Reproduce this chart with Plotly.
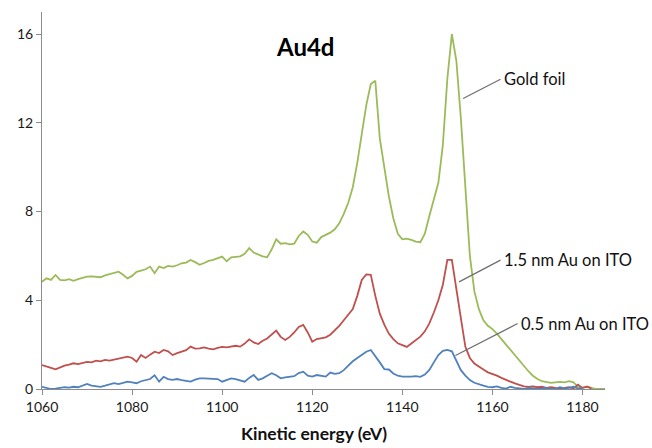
import plotly.graph_objects as go

# Kinetic energy grid (eV) for each spectrum
energy_gold = list(range(1060, 1186))
energy_15nm = list(range(1060, 1183))
energy_05nm = list(range(1060, 1181))

# Au4d photoemission intensity, gold foil
gold_foil = [
    4.84, 4.99, 4.92, 5.14, 4.92, 4.90, 4.95, 4.88, 4.95, 5.00,
    5.07, 5.08, 5.06, 5.04, 5.12, 5.18, 5.22, 5.29, 5.15, 4.99,
    5.10, 5.28, 5.34, 5.40, 5.52, 5.22, 5.52, 5.45, 5.55, 5.52,
    5.58, 5.67, 5.70, 5.82, 5.72, 5.60, 5.68, 5.78, 5.82, 5.90,
    5.97, 5.76, 5.94, 5.96, 5.98, 6.10, 6.35, 6.15, 6.05, 5.98,
    5.94, 6.30, 6.75, 6.55, 6.58, 6.52, 6.55, 6.90, 7.10, 6.95,
    6.65, 6.60, 6.85, 6.95, 7.05, 7.20, 7.47, 7.90, 8.40, 9.10,
    10.2, 11.5, 12.8, 13.75, 13.9, 11.3, 10.0, 8.7, 7.7, 7.0,
    6.75, 6.78, 6.72, 6.65, 6.62, 7.0, 7.8, 8.5, 9.3, 11.0,
    14.0, 16.0, 14.8, 12.2, 9.0, 6.0, 4.4, 3.6, 3.1, 2.85,
    2.7, 2.5, 2.25, 2.0, 1.75, 1.5, 1.25, 1.0, 0.8, 0.6,
    0.45, 0.35, 0.3, 0.28, 0.3, 0.32, 0.3, 0.35, 0.3, 0.1,
    0.05, 0.12, 0.05, 0.0, 0.0, 0.0,
]

# 1.5 nm Au on ITO
au_15nm = [
    1.08, 1.00, 0.95, 0.89, 0.98, 1.05, 1.10, 1.16, 1.12, 1.18,
    1.22, 1.20, 1.28, 1.25, 1.31, 1.28, 1.33, 1.38, 1.42, 1.46,
    1.40, 1.23, 1.53, 1.40, 1.55, 1.68, 1.62, 1.76, 1.70, 1.53,
    1.62, 1.70, 1.75, 1.91, 1.82, 1.83, 1.88, 1.82, 1.79, 1.85,
    1.90, 1.88, 1.92, 1.95, 1.91, 2.05, 2.24, 2.10, 2.03, 2.18,
    2.28, 2.45, 2.63, 2.35, 2.21, 2.35, 2.55, 2.80, 2.89, 2.55,
    2.13, 2.25, 2.30, 2.33, 2.45, 2.65, 2.85, 3.10, 3.35, 3.60,
    4.20, 4.92, 5.17, 5.15, 4.20, 3.40, 2.90, 2.50, 2.25, 2.06,
    1.98, 1.90, 2.05, 2.20, 2.36, 2.60, 2.96, 3.45, 4.00, 4.70,
    5.82, 5.82, 4.60, 3.20, 1.90, 1.40, 1.15, 1.00, 0.88, 0.75,
    0.68, 0.60, 0.50, 0.40, 0.33, 0.25, 0.18, 0.12, 0.10, 0.12,
    0.08, 0.10, 0.05, 0.08, 0.05, 0.03, 0.05, 0.08, 0.02, 0.20,
    0.05, 0.10, 0.02,
]

# 0.5 nm Au on ITO
au_05nm = [
    0.10, 0.05, 0.00, 0.02, 0.05, 0.08, 0.06, 0.10, 0.08, 0.15,
    0.23, 0.15, 0.12, 0.10, 0.15, 0.20, 0.26, 0.22, 0.28, 0.33,
    0.30, 0.26, 0.35, 0.41, 0.45, 0.62, 0.33, 0.55, 0.45, 0.41,
    0.45, 0.40, 0.38, 0.33, 0.42, 0.48, 0.48, 0.47, 0.48, 0.45,
    0.33, 0.42, 0.48, 0.45, 0.40, 0.33, 0.50, 0.63, 0.41, 0.48,
    0.60, 0.71, 0.62, 0.48, 0.52, 0.55, 0.58, 0.72, 0.78, 0.60,
    0.56, 0.63, 0.60, 0.56, 0.74, 0.68, 0.71, 0.85, 1.05, 1.25,
    1.40, 1.55, 1.68, 1.76, 1.45, 1.20, 0.90, 0.88, 0.70, 0.60,
    0.56, 0.55, 0.56, 0.58, 0.55, 0.65, 0.86, 1.20, 1.53, 1.72,
    1.76, 1.70, 1.25, 0.85, 0.60, 0.40, 0.28, 0.20, 0.15, 0.10,
    0.08, 0.12, 0.05, 0.02, 0.10, 0.05, 0.02, 0.00, 0.05, 0.02,
    0.00, 0.03, 0.05, 0.02, 0.00, 0.08, 0.03, 0.05, 0.10, 0.02,
    0.05,
]

x_ticks = [1060, 1080, 1100, 1120, 1140, 1160, 1180]
y_ticks = [0, 4, 8, 12, 16]

FONT = "Lato, 'Open Sans', sans-serif"
AXIS_GREY = "#8c8c8c"
LEADER_GREY = "#6e6e6e"

fig = go.Figure()
series = [
    (energy_gold, gold_foil, "#9bbb59", "Gold foil"),
    (energy_15nm, au_15nm, "#c0504d", "1.5 nm Au on ITO"),
    (energy_05nm, au_05nm, "#4f81bd", "0.5 nm Au on ITO"),
]
for xs, ys, color, name in series:
    fig.add_trace(go.Scatter(
        x=xs, y=ys, mode="lines", name=name,
        line=dict(color=color, width=1.8), showlegend=False,
    ))

# Series labels with grey leader lines pointing at the curves
labels = [
    ("Gold foil", 1153.5, 13.1, 1161.8, 13.97),
    ("1.5 nm Au on ITO", 1152.6, 4.83, 1161.8, 5.81),
    ("0.5 nm Au on ITO", 1151.8, 1.51, 1165.6, 2.95),
]
for text, x0, y0, x1, y1 in labels:
    fig.add_shape(type="line", x0=x0, y0=y0, x1=x1, y1=y1,
                  xref="x", yref="y",
                  line=dict(color=LEADER_GREY, width=1.2))
    fig.add_annotation(x=x1, y=y1, xref="x", yref="y", text=text,
                       showarrow=False, xanchor="left", yanchor="middle",
                       xshift=1, font=dict(family=FONT, size=16.5, color="#111111"))

fig.add_annotation(x=1118.4, y=15.45, xref="x", yref="y", text="<b>Au4d</b>",
                   showarrow=False, xanchor="center", yanchor="middle",
                   font=dict(family=FONT, size=24, color="#000000"))

# Axis title placed below the tick labels, slightly left of the plot centre
fig.add_annotation(x=0.483, y=-0.117, xref="paper", yref="paper",
                   text="<b>Kinetic energy (eV)</b>", showarrow=False,
                   xanchor="center", yanchor="middle",
                   font=dict(family=FONT, size=17.5, color="#111111"))

fig.update_layout(
    width=652, height=448,
    margin=dict(l=42, r=47, t=12, b=59),
    paper_bgcolor="white", plot_bgcolor="white",
    font=dict(family=FONT, size=14, color="#222222"),
    xaxis=dict(
        range=[1060, 1185], tickvals=x_ticks, ticktext=[str(v) for v in x_ticks],
        showgrid=False, zeroline=False, showline=True, linecolor=AXIS_GREY,
        linewidth=1, ticks="outside", ticklen=5, tickcolor=AXIS_GREY,
        tickfont=dict(family=FONT, size=14, color="#1a1a1a"),
    ),
    yaxis=dict(
        range=[0, 17], tickvals=y_ticks, ticktext=[str(v) for v in y_ticks],
        showgrid=False, zeroline=False, showline=True, linecolor=AXIS_GREY,
        linewidth=1, ticks="outside", ticklen=5, tickcolor=AXIS_GREY,
        tickfont=dict(family=FONT, size=14, color="#1a1a1a"),
    ),
)

fig.write_html("out.html")
